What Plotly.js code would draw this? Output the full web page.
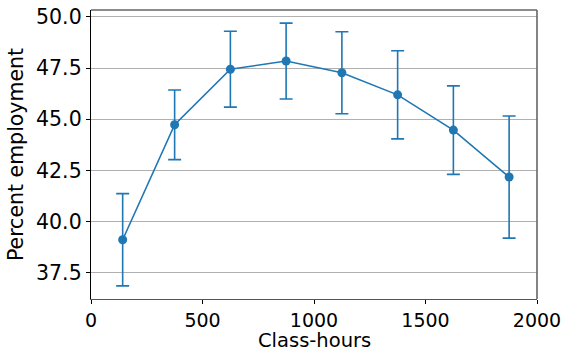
<!DOCTYPE html>
<html>
<head>
<meta charset="utf-8">
<script src="https://cdn.plot.ly/plotly-3.0.1.min.js"></script>
<style>html,body{margin:0;padding:0;background:#fff}#chart{width:565px;height:353px}</style>
</head>
<body>
<div id="chart"></div>
<script>
const classHours = [142, 375, 625, 875, 1125, 1375, 1625, 1875];
const pctEmployment = [39.12, 44.73, 47.44, 47.84, 47.27, 46.19, 44.47, 42.18];
const errHalf = [2.25, 1.70, 1.85, 1.85, 2.0, 2.15, 2.16, 2.98];
const yTicks = [37.5, 40.0, 42.5, 45.0, 47.5, 50.0];
const xTicks = [0, 500, 1000, 1500, 2000];
const xTitle = 'Class-hours';
const yTitle = 'Percent employment';

const font = {family: 'DejaVu Sans', size: 20.5, color: '#000'};
const xTickFont = {family: 'DejaVu Sans', size: 19, color: '#000'};
const xTitleFont = {family: 'DejaVu Sans', size: 19.5, color: '#000'};
const trace = {
  x: classHours, y: pctEmployment, type: 'scatter', mode: 'lines+markers',
  line: {color: '#1f77b4', width: 1.6},
  marker: {color: '#1f77b4', size: 9},
  error_y: {type: 'data', array: errHalf, visible: true, color: '#1f77b4', thickness: 1.6, width: 6.5}
};
const layout = {
  width: 565, height: 353,
  margin: {l: 91, r: 28, t: 10, b: 54},
  paper_bgcolor: '#fff', plot_bgcolor: '#fff',
  showlegend: false,
  font: font,
  xaxis: {
    range: [0, 2000], tickvals: xTicks, ticktext: xTicks.map(String),
    showgrid: false, zeroline: false, ticks: 'outside', ticklen: 4, tickcolor: '#000',
    showline: true, linecolor: '#555', linewidth: 1.2,
    tickfont: xTickFont
  },
  yaxis: {
    range: [36.23, 50.33], tickvals: yTicks, ticktext: yTicks.map(v => v.toFixed(1)),
    showgrid: true, gridcolor: '#b0b0b0', gridwidth: 1, zeroline: false,
    ticks: 'outside', ticklen: 4, tickcolor: '#000',
    showline: true, linecolor: '#000', linewidth: 1.2,
    tickfont: font,
    title: {text: yTitle, font: font, standoff: 6}
  },
  annotations: [
    {text: xTitle, xref: 'paper', yref: 'paper', x: 0.5, y: -0.1865, xanchor: 'center', yanchor: 'bottom',
     showarrow: false, font: xTitleFont, borderpad: 0}
  ],
  shapes: [
    {type: 'line', xref: 'paper', yref: 'paper', x0: 0, x1: 1, y0: 1, y1: 1, line: {color: '#666', width: 1.6}},
    {type: 'line', xref: 'paper', yref: 'paper', x0: 1, x1: 1, y0: 0, y1: 1, line: {color: '#666', width: 1.6}}
  ]
};
Plotly.newPlot('chart', [trace], layout, {displayModeBar: false, staticPlot: true});
</script>
</body>
</html>
